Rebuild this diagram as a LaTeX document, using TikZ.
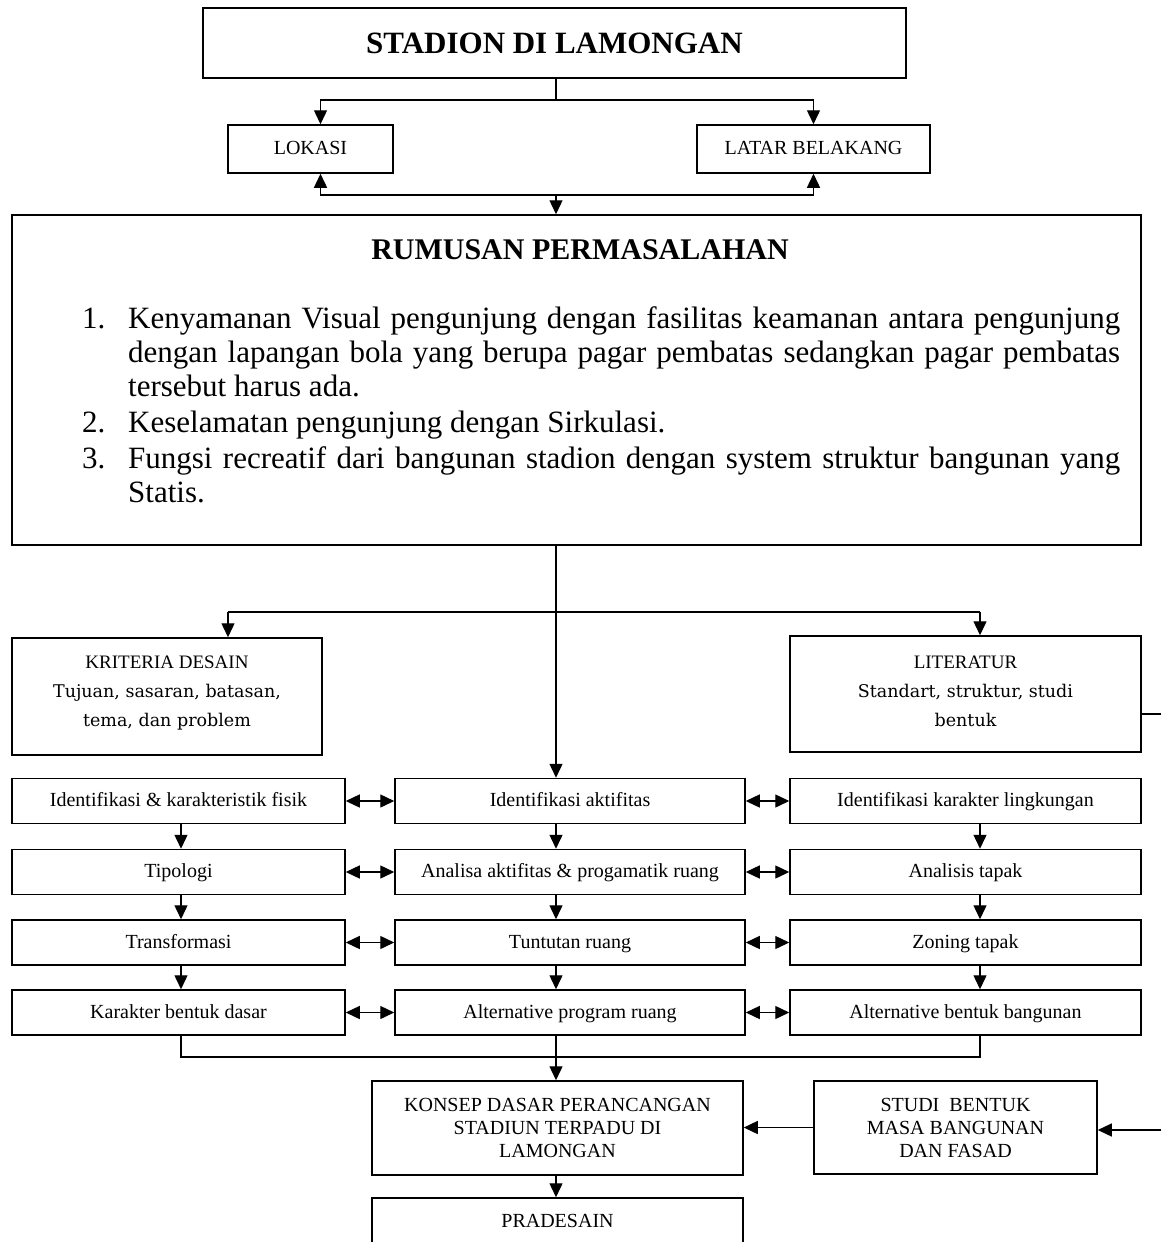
\documentclass[tikz,border=0pt]{standalone}
\usepackage{fontspec}
\setmainfont{Liberation Serif}
\newfontfamily\schfont{DejaVu Serif}
\usetikzlibrary{arrows.meta}

\begin{document}
\begin{tikzpicture}[x=1pt,y=-1pt,
  box/.style={draw, line width=1.5pt, inner sep=0pt, align=center},
  conn/.style={line width=1.4pt},
  tip/.tip={Triangle[length=14pt,width=13pt]},
  arr/.style={conn, -tip},
  darr/.style={conn, tip-tip},
  small/.style={font=\fontsize{20}{23}\selectfont},
  oneline/.style={small, text height=15pt, text depth=4pt},
  rowL/.style={box, oneline, minimum width=333, minimum height=45},
  rowM/.style={box, oneline, minimum width=350, minimum height=45},
  rowR/.style={box, oneline, minimum width=351, minimum height=45},
]
\useasboundingbox (0,0) rectangle (1161,1242);

% column lines of the analysis grid
\coordinate (cL) at (181,0);
\coordinate (cM) at (556,0);
\coordinate (cR) at (980,0);
\coordinate (kx) at (228,0);

% ---- top part ----
\node[box, minimum width=703, minimum height=70, font=\bfseries\fontsize{31}{36}\selectfont] (title) at (554.5,43) {STADION DI LAMONGAN};
\node[box, oneline, minimum width=165, minimum height=48] (lokasi) at (310.5,149) {LOKASI};
\node[box, oneline, minimum width=233, minimum height=48] (latar) at (813.5,149) {LATAR BELAKANG};

\coordinate (j1) at (556,100);
\coordinate (j2) at (556,195);
\draw[conn] (title.south -| j1) -- (j1);
\draw[arr] (j1) -| ([xshift=10pt]lokasi.north);
\draw[arr] (j1) -| (latar.north);
\draw[arr] (j2) -| ([xshift=10pt]lokasi.south);
\draw[arr] (j2) -| (latar.south);

% ---- problem statement ----
\node[box, minimum width=1129, minimum height=330] (rumusan) at (576.5,380) {};
\draw[arr] (j2) -- (rumusan.north -| j2);
\node[font=\bfseries\fontsize{30}{36}\selectfont] (rumusanhead) at (580,250) {RUMUSAN PERMASALAHAN};
\node[anchor=north west, inner sep=0pt, align=left, font=\fontsize{31}{34}\selectfont] (rumusanlist) at (82,306) {%
\makebox[46pt][l]{1.}\makebox[992pt][s]{Kenyamanan Visual pengunjung dengan fasilitas keamanan antara pengunjung}\\
\hspace*{46pt}\makebox[992pt][s]{dengan lapangan bola yang berupa pagar pembatas sedangkan pagar pembatas}\\
\hspace*{46pt}tersebut harus ada.\\[2pt]
\makebox[46pt][l]{2.}Keselamatan pengunjung dengan Sirkulasi.\\[2pt]
\makebox[46pt][l]{3.}\makebox[992pt][s]{Fungsi recreatif dari bangunan stadion dengan system struktur bangunan yang}\\
\hspace*{46pt}Statis.};

% ---- criteria and literature ----
\node[box, minimum width=310, minimum height=117] (kriteria) at (167,696.5) {};
\node[align=center, inner sep=0pt, font=\fontsize{19}{29}\selectfont] (kriteriatext) at (167,693) {%
KRITERIA DESAIN\\
{\schfont\fontsize{17.5}{29}\selectfont Tujuan, sasaran, batasan,}\\
{\schfont\fontsize{17.5}{29}\selectfont tema, dan problem}};
\node[box, minimum width=351, minimum height=116] (literatur) at (965.5,694) {};
\node[align=center, inner sep=0pt, font=\fontsize{19}{29}\selectfont] (literaturtext) at (965.5,691) {%
LITERATUR\\
{\schfont\fontsize{17.5}{29}\selectfont Standart, struktur, studi}\\
{\schfont\fontsize{17.5}{29}\selectfont bentuk}};

\coordinate (j3) at (556,612);
\draw[conn] (j3 -| kx) -- (j3 -| cR);
\draw[arr] (j3 -| kx) -- (kriteria.north -| kx);
\draw[arr] (j3 -| cR) -- (literatur.north -| cR);

% ---- analysis grid ----
\node[rowL] (l1) at (178.5,801) {Identifikasi \& karakteristik fisik};
\node[rowM] (m1) at (570,801) {Identifikasi aktifitas};
\node[rowR] (r1) at (965.5,801) {Identifikasi karakter lingkungan};
\node[rowL] (l2) at (178.5,872) {Tipologi};
\node[rowM] (m2) at (570,872) {Analisa aktifitas \& progamatik ruang};
\node[rowR] (r2) at (965.5,872) {Analisis tapak};
\node[rowL] (l3) at (178.5,942.5) {Transformasi};
\node[rowM] (m3) at (570,942.5) {Tuntutan ruang};
\node[rowR] (r3) at (965.5,942.5) {Zoning tapak};
\node[rowL] (l4) at (178.5,1012.5) {Karakter bentuk dasar};
\node[rowM] (m4) at (570,1012.5) {Alternative program ruang};
\node[rowR] (r4) at (965.5,1012.5) {Alternative bentuk bangunan};

\draw[arr] (rumusan.south -| cM) -- (m1.north -| cM);

\foreach \a/\b in {1/2,2/3,3/4}{
  \draw[arr] (l\a.south -| cL) -- (l\b.north -| cL);
  \draw[arr] (m\a.south -| cM) -- (m\b.north -| cM);
  \draw[arr] (r\a.south -| cR) -- (r\b.north -| cR);
}
\foreach \a in {1,2,3,4}{
  \draw[darr] (l\a.east) -- (m\a.west);
  \draw[darr] (m\a.east) -- (r\a.west);
}

% ---- concept ----
\node[box, small, minimum width=371, minimum height=94] (konsep) at (557.5,1128) {KONSEP DASAR PERANCANGAN\\STADIUN TERPADU DI\\LAMONGAN};
\node[box, small, minimum width=283, minimum height=93] (studi) at (955.5,1127.5) {STUDI\ \ BENTUK\\MASA BANGUNAN\\DAN FASAD};
\node[box, minimum width=371, minimum height=60] (pradesain) at (557.5,1228) {};
\node[oneline] (pradesaintext) at (557.5,1222) {PRADESAIN};

\coordinate (j4) at (556,1057);
\draw[conn] (l4.south -| cL) |- (j4) -| (r4.south -| cR);
\draw[arr] (m4.south -| cM) -- (konsep.north -| cM);
\draw[arr] (studi.west) -- (konsep.east |- studi.west);
\draw[arr] (konsep.south -| cM) -- (pradesain.north -| cM);

\coordinate (farA) at (1185,714);
\coordinate (farB) at (1185,1130);
\draw[arr] (literatur.east |- farA) -- (farA) -- (farB) -- (studi.east |- farB);
\end{tikzpicture}
\end{document}
